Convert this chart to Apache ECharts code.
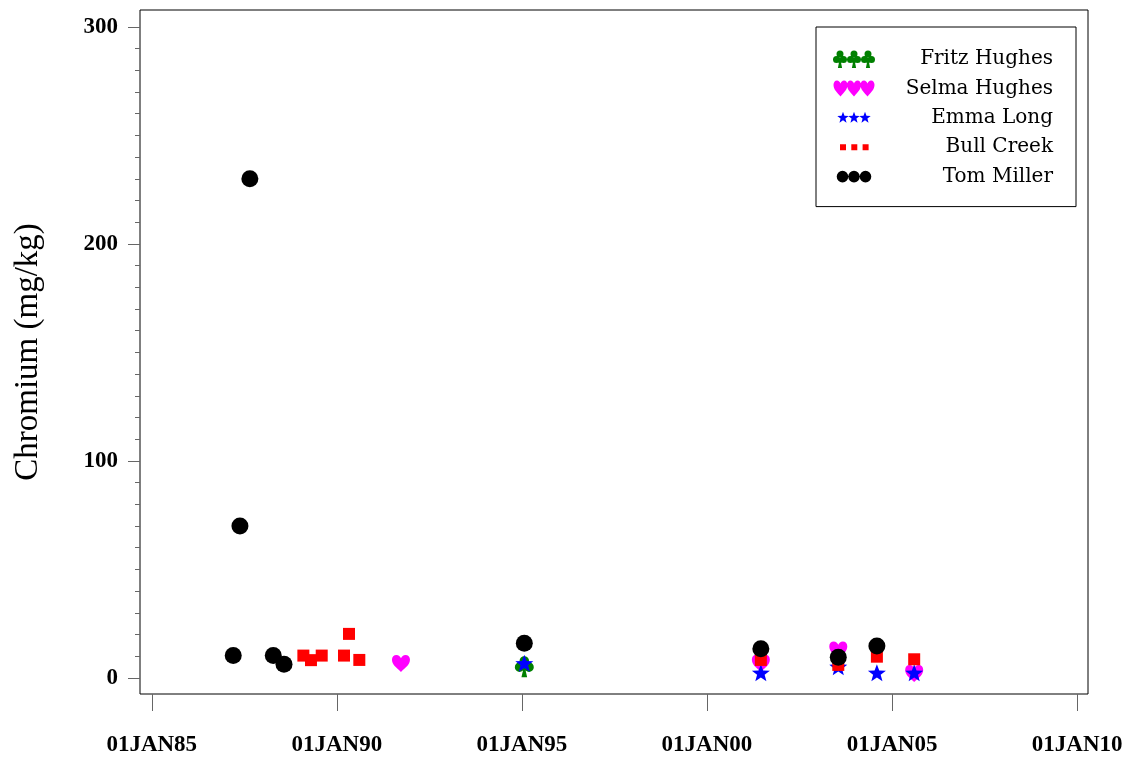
<!DOCTYPE html>
<html><head><meta charset="utf-8">
<script src="https://cdn.jsdelivr.net/npm/echarts@6/dist/echarts.min.js"></script>
<style>html,body{margin:0;padding:0;background:#fff}#c{width:1128px;height:759px}</style>
</head><body><div id="c"></div>
<script>
// ---------- data ----------
const seriesNames = ['Fritz Hughes', 'Selma Hughes', 'Emma Long', 'Bull Creek', 'Tom Miller'];
const fritzDates = ['1995-01-25'];
const fritzValues = [5.2];
const selmaDates = ['1991-09-26', '2001-06-16', '2003-07-20', '2005-08-07'];
const selmaValues = [6.7, 6.8, 12.9, 2.0];
const emmaDates = ['1995-01-25', '2001-06-16', '2003-07-20', '2004-08-04', '2005-08-07'];
const emmaValues = [6.8, 2.4, 5.2, 2.4, 2.4];
const bullDates = ['1989-02-05', '1989-04-21', '1989-08-05', '1990-03-13', '1990-05-01', '1990-08-11', '2001-06-16', '2003-07-20', '2004-08-04', '2005-08-07'];
const bullValues = [10.3, 8.2, 10.3, 10.3, 20.3, 8.3, 8.3, 6.0, 9.8, 8.6];
const tomDates = ['1987-03-16', '1987-05-21', '1987-08-27', '1988-04-14', '1988-07-29', '1995-01-25', '2001-06-16', '2003-07-20', '2004-08-04'];
const tomValues = [10.3, 70, 230, 10.3, 6.3, 16, 13.4, 9.5, 14.7];
const xTickYears = [1985, 1990, 1995, 2000, 2005, 2010];
const yTickValues = [0, 100, 200, 300];
const yAxisTitle = 'Chromium (mg/kg)';
const monthAbbr = ['JAN','FEB','MAR','APR','MAY','JUN','JUL','AUG','SEP','OCT','NOV','DEC'];

// ---------- helpers ----------
function ts(s) { const p = s.split('-').map(Number); return Date.UTC(p[0], p[1] - 1, p[2]); }
function pairs(dates, vals) { return dates.map((d, i) => [ts(d), vals[i]]); }
function circ(cx, cy, r) {
  return `M${cx - r},${cy} A${r},${r} 0 1,0 ${cx + r},${cy} A${r},${r} 0 1,0 ${cx - r},${cy} Z `;
}
function heart(x, y, w, h) {
  const X = v => (x + v * w / 20).toFixed(2), Y = v => (y + v * h / 18).toFixed(2);
  return `M${X(10)},${Y(18)} C${X(4)},${Y(13)} ${X(0)},${Y(10)} ${X(0)},${Y(5)} C${X(0)},${Y(2)} ${X(2)},${Y(0)} ${X(5)},${Y(0)} C${X(7.5)},${Y(0)} ${X(9)},${Y(1.5)} ${X(10)},${Y(3.5)} C${X(11)},${Y(1.5)} ${X(12.5)},${Y(0)} ${X(15)},${Y(0)} C${X(18)},${Y(0)} ${X(20)},${Y(2)} ${X(20)},${Y(5)} C${X(20)},${Y(10)} ${X(16)},${Y(13)} ${X(10)},${Y(18)} Z `;
}
function club(x, y, w, h) {
  const sx = w / 20, sy = h / 22;
  const r = 5 * sx;
  let s = circ(x + 10 * sx, y + 5 * sy, r) + circ(x + 5 * sx, y + 11.5 * sy, r) + circ(x + 15 * sx, y + 11.5 * sy, r);
  s += `M${x + 10 * sx},${y + 9 * sy} L${x + 7 * sx},${y + 22 * sy} L${x + 13 * sx},${y + 22 * sy} Z `;
  return s;
}
function star(cx, cy, R) {
  const r = R * 0.42; let s = '';
  for (let i = 0; i < 10; i++) {
    const a = -Math.PI / 2 - i * Math.PI / 5;
    const rr = i % 2 ? r : R;
    s += (i ? 'L' : 'M') + (cx + rr * Math.cos(a)).toFixed(2) + ',' + (cy + rr * Math.sin(a)).toFixed(2) + ' ';
  }
  return s + 'Z ';
}
function rect(cx, cy, a) { return `M${cx - a / 2},${cy - a / 2} L${cx - a / 2},${cy + a / 2} L${cx + a / 2},${cy + a / 2} L${cx + a / 2},${cy - a / 2} Z `; }

const IW = 42, IH = 18;
const pad = `M0,0 M${IW},${IH} `;
const legendIcons = [
  'path://' + pad + club(0, 0, 14, 18) + club(14, 0, 14, 18) + club(28, 0, 14, 18),
  'path://' + pad + heart(0.5, 1, 14, 16) + heart(14, 1, 14, 16) + heart(27.5, 1, 14, 16),
  'path://' + pad + star(10, 9, 6) + star(21, 9, 6) + star(32, 9, 6),
  'path://' + pad + rect(10, 9, 6) + rect(21.3, 9, 6) + rect(32.6, 9, 6),
  'path://' + pad + circ(9.5, 9, 5.8) + circ(21, 9, 5.8) + circ(32.5, 9, 5.8)
];
const symbols = [
  'path://' + club(0, 0, 20, 22),
  'path://' + heart(0, 0, 20, 18),
  'path://' + star(10, 10, 10),
  'rect',
  'circle'
];
const symbolSizes = [[19, 21], [18, 17], [18, 17], 12, 17];
const colors = ['#008000', '#ff00ff', '#0000ff', '#ff0000', '#000000'];
const seriesData = [pairs(fritzDates, fritzValues), pairs(selmaDates, selmaValues), pairs(emmaDates, emmaValues), pairs(bullDates, bullValues), pairs(tomDates, tomValues)];

const xTicks = xTickYears.map(y => Date.UTC(y, 0, 1));
const yMinor = [];
for (let v = 0; v <= 300; v += 10) if (v % 100) yMinor.push(v);

const chart = echarts.init(document.getElementById('c'), null, { renderer: 'canvas' });
chart.setOption({
  animation: false,
  backgroundColor: '#fff',
  grid: { left: 140, right: 40, top: 10, bottom: 65, show: true, borderColor: '#000', borderWidth: 1, backgroundColor: 'transparent', containLabel: false, outerBoundsMode: 'none' },
  xAxis: {
    type: 'value',
    min: Date.UTC(1984, 8, 7), max: Date.UTC(2010, 3, 18),
    axisLine: { show: false, onZero: false },
    axisTick: { show: true, inside: false, customValues: xTicks, length: 17, lineStyle: { color: '#666', width: 1 } },
    axisLabel: {
      customValues: xTicks, margin: 40, color: '#000',
      fontFamily: 'Liberation Serif', fontWeight: 'bold', fontSize: 23,
      formatter: v => { const d = new Date(v); return String(d.getUTCDate()).padStart(2, '0') + monthAbbr[d.getUTCMonth()] + String(d.getUTCFullYear()).slice(2); }
    },
    splitLine: { show: false }
  },
  yAxis: [{
    type: 'value', min: -7.4, max: 307.8, position: 'left',
    name: yAxisTitle, nameLocation: 'middle', nameRotate: 90, nameGap: 95,
    nameTextStyle: { fontFamily: 'Liberation Serif', fontSize: 33, color: '#000' },
    axisLine: { show: false, onZero: false },
    axisTick: { show: true, customValues: yTickValues, length: 12, lineStyle: { color: '#666' } },
    axisLabel: { customValues: yTickValues, margin: 22, color: '#000', fontFamily: 'Liberation Serif', fontWeight: 'bold', fontSize: 23 },
    splitLine: { show: false }
  }, {
    type: 'value', min: -7.4, max: 307.8, position: 'left',
    axisLine: { show: false, onZero: false },
    axisTick: { show: true, customValues: yMinor, length: 5, lineStyle: { color: '#666' } },
    axisLabel: { show: false },
    splitLine: { show: false }
  }],
  legend: {
    orient: 'vertical', left: 816, top: 27,
    padding: [22, 23, 20, 17],
    itemWidth: IW, itemHeight: IH, itemGap: 9.4,
    borderColor: '#000', borderWidth: 1, backgroundColor: '#fff',
    selectedMode: false,
    data: seriesNames.map((n, i) => ({ name: n, icon: legendIcons[i] })),
    formatter: n => '{r|' + n + '}',
    textStyle: {
      color: '#000', fontFamily: 'DejaVu Serif', fontSize: 20, lineHeight: 20,
      rich: { r: { width: 173, align: 'right', fontFamily: 'DejaVu Serif', fontSize: 20, lineHeight: 20, color: '#000' } }
    }
  },
  series: seriesNames.map((n, i) => ({
    name: n, type: 'scatter', data: seriesData[i],
    symbol: symbols[i], symbolSize: symbolSizes[i],
    itemStyle: { color: colors[i], opacity: 1 },
    emphasis: { disabled: true }
  }))
});
</script></body></html>
